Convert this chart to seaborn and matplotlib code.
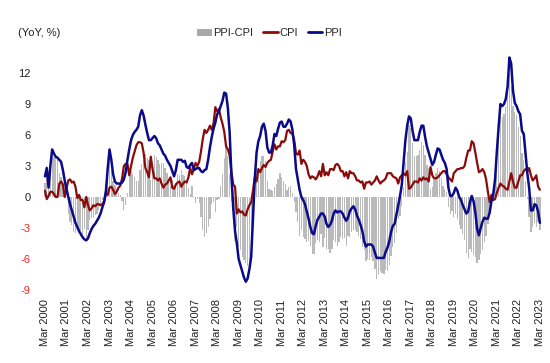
import matplotlib
matplotlib.use("Agg")
import matplotlib.pyplot as plt
import seaborn as sns
import numpy as np
import pandas as pd
from matplotlib.patches import Patch
from matplotlib.lines import Line2D

# Monthly data, Mar 2000 .. Mar 2023
cpi = [
    0.6, -0.2, 0.1, 0.5, 0.5, 0.3, 0.0, 0.0, 1.3, 1.5,
    1.2, 0.0, 0.8, 1.6, 1.7, 1.4, 1.5, 1.0, -0.1, 0.2, -0.3, -0.3,
    -1.0, 0.0, -0.8, -1.3, -1.1, -0.8, -0.9, -0.7, -0.7, -0.8, -0.7, -0.4,
    0.4, 0.2, 0.9, 1.0, 0.7, 0.3, 0.5, 0.9, 1.1, 1.8, 3.0, 3.2,
    3.2, 2.1, 3.0, 3.8, 4.4, 5.0, 5.3, 5.3, 5.2, 4.3, 2.8, 2.4,
    1.9, 3.9, 2.7, 1.8, 1.8, 1.6, 1.8, 1.3, 0.9, 1.2, 1.3, 1.6,
    1.9, 0.9, 0.8, 1.2, 1.4, 1.5, 1.0, 1.3, 1.5, 1.4, 1.9, 2.8,
    2.2, 2.7, 3.3, 3.0, 3.4, 4.4, 5.6, 6.5, 6.2, 6.5, 6.9, 6.5,
    7.1, 8.7, 8.3, 8.5, 7.7, 7.1, 6.3, 4.9, 4.6, 4.0, 2.4, 1.2,
    1.0, -1.6, -1.2, -1.5, -1.4, -1.7, -1.8, -1.2, -0.8, -0.5, 0.6, 1.9,
    1.5, 2.7, 2.4, 2.8, 3.1, 2.9, 3.3, 3.5, 3.6, 4.4, 5.1, 4.6,
    4.9, 4.9, 5.4, 5.3, 5.5, 6.4, 6.5, 6.2, 6.1, 5.5, 4.2, 4.1,
    4.5, 3.2, 3.6, 3.4, 3.0, 2.2, 1.8, 2.0, 1.9, 1.7, 2.0, 2.5,
    2.0, 3.2, 2.1, 2.4, 2.1, 2.7, 2.7, 2.6, 3.1, 3.2, 3.0, 2.5,
    2.5, 2.0, 2.4, 1.8, 2.5, 2.3, 2.3, 2.0, 1.6, 1.6, 1.4, 1.5,
    0.8, 1.4, 1.4, 1.5, 1.2, 1.4, 1.6, 2.0, 1.6, 1.3, 1.5, 1.6,
    1.8, 2.3, 2.3, 2.3, 2.0, 1.9, 1.8, 1.3, 1.9, 2.1, 2.3, 2.1,
    2.5, 0.8, 0.9, 1.2, 1.5, 1.5, 1.4, 1.8, 1.6, 1.9, 1.7, 1.8,
    1.5, 2.9, 2.1, 1.8, 1.8, 1.9, 2.1, 2.3, 2.5, 2.5, 2.2, 1.9,
    1.7, 1.5, 2.3, 2.5, 2.7, 2.7, 2.8, 2.8, 3.0, 3.8, 4.5, 4.5,
    5.4, 5.2, 4.3, 3.3, 2.4, 2.5, 2.7, 2.4, 1.7, 0.5, -0.5, 0.2,
    -0.3, -0.2, 0.4, 0.9, 1.3, 1.1, 1.0, 0.8, 0.7, 1.5, 2.3, 1.5,
    0.9, 0.9, 1.5, 2.1, 2.1, 2.5, 2.7, 2.5, 2.8, 2.1, 1.6, 1.8,
    2.1, 1.0, 0.7,
]

ppi = [
    2.0, 2.8, 0.9, 3.0, 4.6, 4.2, 3.9, 3.8, 3.6, 3.4,
    2.6, 1.6, 0.8, 0.0, -0.7, -1.3, -1.9, -2.5, -2.9, -3.3, -3.6, -3.9,
    -4.1, -4.2, -4.0, -3.5, -3.1, -2.8, -2.6, -2.3, -2.0, -1.6, -1.0, -0.5,
    0.6, 2.8, 4.6, 3.6, 2.2, 1.5, 1.3, 1.3, 1.3, 1.4, 1.7, 2.4,
    3.6, 4.6, 5.5, 6.0, 6.3, 6.5, 6.8, 7.9, 8.4, 7.9, 7.0, 6.2,
    5.5, 5.5, 5.7, 5.9, 5.7, 5.2, 5.0, 4.6, 4.2, 4.0, 3.6, 3.3,
    3.0, 2.5, 2.0, 2.6, 3.6, 3.6, 3.6, 3.4, 3.5, 2.9, 2.8, 3.1,
    3.3, 2.6, 2.7, 2.8, 2.8, 2.5, 2.4, 2.6, 2.7, 3.6, 4.8, 5.8,
    6.6, 7.2, 8.0, 8.3, 8.8, 9.3, 10.1, 10.0, 8.6, 6.2, 2.0, -1.1,
    -3.3, -4.5, -6.0, -6.6, -7.2, -7.8, -8.2, -7.9, -7.0, -5.8, -2.1, 1.7,
    4.3, 5.4, 5.9, 6.8, 7.1, 6.4, 4.8, 4.3, 4.3, 5.0, 6.1, 5.9,
    6.6, 7.2, 7.3, 6.8, 6.8, 7.1, 7.5, 7.3, 6.5, 5.0, 2.7, 1.7,
    0.7, 0.0, -0.3, -0.7, -1.4, -2.1, -2.9, -3.5, -3.6, -2.8, -2.2, -1.9,
    -1.6, -1.6, -1.9, -2.6, -2.9, -2.7, -2.3, -1.6, -1.3, -1.5, -1.4, -1.4,
    -1.6, -2.0, -2.3, -2.0, -1.4, -1.1, -0.9, -1.2, -1.8, -2.2, -2.7, -3.3,
    -4.3, -4.8, -4.6, -4.6, -4.6, -4.8, -5.4, -5.9, -5.9, -5.9, -5.9, -5.9,
    -5.3, -4.9, -4.3, -3.4, -2.8, -2.6, -1.7, -0.8, 0.1, 1.2, 3.3, 5.5,
    6.9, 7.8, 7.6, 6.4, 5.5, 5.5, 5.5, 6.3, 6.9, 6.9, 5.8, 4.9,
    4.3, 3.7, 3.1, 3.4, 4.1, 4.7, 4.6, 4.1, 3.6, 3.3, 2.7, 0.9,
    0.1, 0.1, 0.4, 0.9, 0.6, 0.0, -0.3, -0.8, -1.2, -1.6, -1.4, -0.5,
    0.1, -0.4, -1.5, -3.1, -3.7, -3.0, -2.4, -2.0, -2.1, -2.1, -1.5, -0.4,
    0.3, 1.7, 4.4, 6.8, 9.0, 8.8, 9.0, 9.5, 10.7, 13.5, 12.9, 10.3,
    9.1, 8.8, 8.3, 8.0, 6.4, 6.1, 4.2, 2.3, 0.9, -1.3, -1.3, -0.7,
    -0.8, -1.4, -2.5,
]

tick_labels = [f"Mar {y}" for y in range(2000, 2024)]
y_ticks = [-9, -6, -3, 0, 3, 6, 9, 12]

n = min(len(cpi), len(ppi))
df = pd.DataFrame({
    "idx": np.arange(n),
    "CPI": cpi[:n],
    "PPI": ppi[:n],
})
df["PPI-CPI"] = df["PPI"] - df["CPI"]

sns.set_theme(style="white")
plt.rcParams["font.family"] = ["Liberation Sans", "DejaVu Sans"]

fig = plt.figure(figsize=(5.5, 3.63), dpi=100)
ax = fig.add_axes([0.0785, 0.187, 0.908, 0.683])

bar_col = "#bababa"
cpi_col = "#8b0a0a"
ppi_col = "#0a0a8a"

ax.bar(df["idx"], df["PPI-CPI"], width=0.7, color=bar_col, linewidth=0, zorder=1)
sns.lineplot(data=df, x="idx", y="CPI", color=cpi_col, linewidth=1.6, ax=ax, zorder=3)
sns.lineplot(data=df, x="idx", y="PPI", color=ppi_col, linewidth=1.8, ax=ax, zorder=4)

ax.set_xlim(-1, 277.5)
ax.set_ylim(-9.5, 14.5)
ax.set_xticks(np.arange(0, 12 * len(tick_labels), 12)[:len(tick_labels)])
ax.set_xticklabels(tick_labels, rotation=90, fontsize=8, color="#222222")
ax.set_yticks(y_ticks)
ax.set_yticklabels([str(v) for v in y_ticks], fontsize=8)
for lab, v in zip(ax.get_yticklabels(), y_ticks):
    lab.set_color("#ff2020" if v < 0 else "#222222")
ax.tick_params(axis="both", length=0)
ax.tick_params(axis="y", pad=9)
ax.tick_params(axis="x", pad=3)
ax.set_xlabel("")
ax.set_ylabel("")
for s in ax.spines.values():
    s.set_visible(False)
ax.grid(False)

fig.text(0.033, 0.909, "(YoY, %)", fontsize=8, color="#222222", va="center", ha="left")

handles = [
    Patch(facecolor="#a8a8a8", edgecolor="none"),
    Line2D([0], [0], color=cpi_col, lw=2),
    Line2D([0], [0], color=ppi_col, lw=2),
]
fig.legend(handles, ["PPI-CPI", "CPI", "PPI"], loc="center", bbox_to_anchor=(0.49, 0.909),
           ncol=3, frameon=False, fontsize=8, handlelength=1.3, handleheight=0.6,
           handletextpad=0.15, columnspacing=0.9, borderpad=0)

fig.savefig("out.png", dpi=100)
